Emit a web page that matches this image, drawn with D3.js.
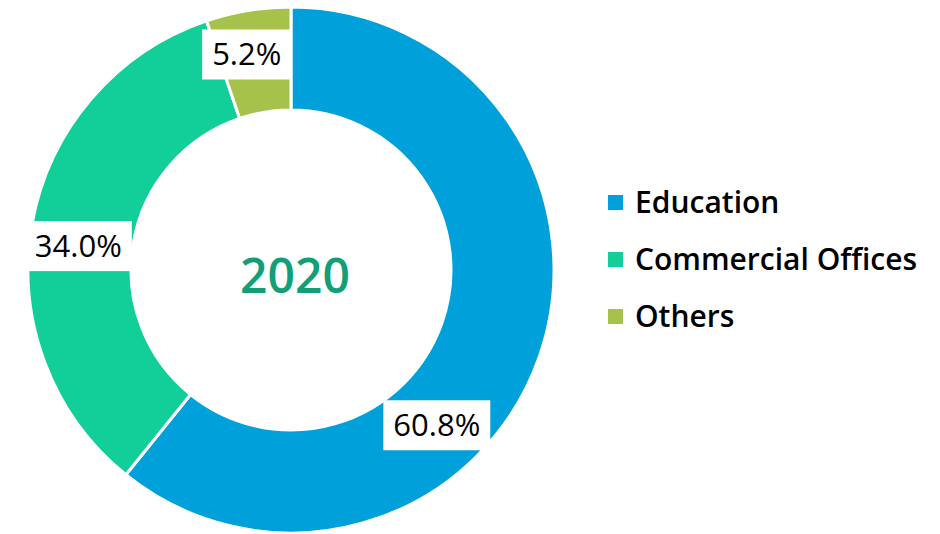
<!DOCTYPE html>
<html>
<head>
<meta charset="utf-8">
<script src="https://cdn.jsdelivr.net/npm/d3@7"></script>
<style>
  body { margin: 0; background: #fff; }
  svg { display: block; font-family: 'Open Sans', 'Noto Sans', sans-serif; }
</style>
</head>
<body>
<svg width="940" height="534"></svg>
<script>
// data
const categories = ['Education', 'Commercial Offices', 'Others'];
const values = [60.8, 34.0, 5.2];
const colors = ['#00A0DA', '#12CF9A', '#A6C24A'];
const year = '2020';
// where the label sits along each slice (0 = start, 1 = end) and how far out
const labelFrac = [0.625, 0.47, 0.38];
const labelDist = [213, 214, 220];

const svg = d3.select('svg');
const cx = 291, cy = 270;
const outerR = 263, innerR = 160;

const g = svg.append('g').attr('transform', `translate(${cx},${cy})`);

const pie = d3.pie().sort(null).value(d => d.value);
const arcs = pie(categories.map((c, i) => ({ name: c, value: values[i], i })));

const arc = d3.arc().innerRadius(innerR).outerRadius(outerR);

g.selectAll('path.slice')
  .data(arcs)
  .join('path')
  .attr('class', 'slice')
  .attr('d', arc)
  .attr('fill', d => colors[d.data.i])
  .attr('stroke', '#fff')
  .attr('stroke-width', 3);

// labels in white boxes
const labels = g.selectAll('g.label')
  .data(arcs)
  .join('g')
  .attr('class', 'label')
  .attr('transform', d => {
    const a = d.startAngle + (d.endAngle - d.startAngle) * labelFrac[d.data.i];
    const r = labelDist[d.data.i];
    return `translate(${r * Math.sin(a)},${-r * Math.cos(a)})`;
  });

const boxes = labels.append('rect').attr('fill', '#fff');

labels.append('text')
  .attr('text-anchor', 'middle')
  .attr('y', 11)
  .attr('font-size', 31)
  .attr('fill', '#000')
  .text(d => d.data.value.toFixed(1) + '%');

// size the boxes round their text
labels.each(function() {
  const w = d3.select(this).select('text').node().getBBox().width + 20;
  d3.select(this).select('rect')
    .attr('x', -w / 2).attr('y', -25)
    .attr('width', w).attr('height', 50);
});

// center title
g.append('text')
  .attr('x', 4).attr('y', 23)
  .attr('text-anchor', 'middle')
  .attr('font-size', 48)
  .attr('font-weight', 600)
  .attr('fill', '#129F78')
  .text(year);

// legend
const legend = svg.append('g').attr('transform', 'translate(608,0)');
const rows = legend.selectAll('g')
  .data(categories)
  .join('g')
  .attr('transform', (d, i) => `translate(0,${213 + i * 57})`);

rows.append('rect')
  .attr('x', 0).attr('y', -18)
  .attr('width', 15).attr('height', 15)
  .attr('fill', (d, i) => colors[i]);

rows.append('text')
  .attr('x', 27)
  .attr('font-size', 30)
  .attr('font-weight', 600)
  .attr('fill', '#000')
  .text(d => d);
</script>
</body>
</html>
